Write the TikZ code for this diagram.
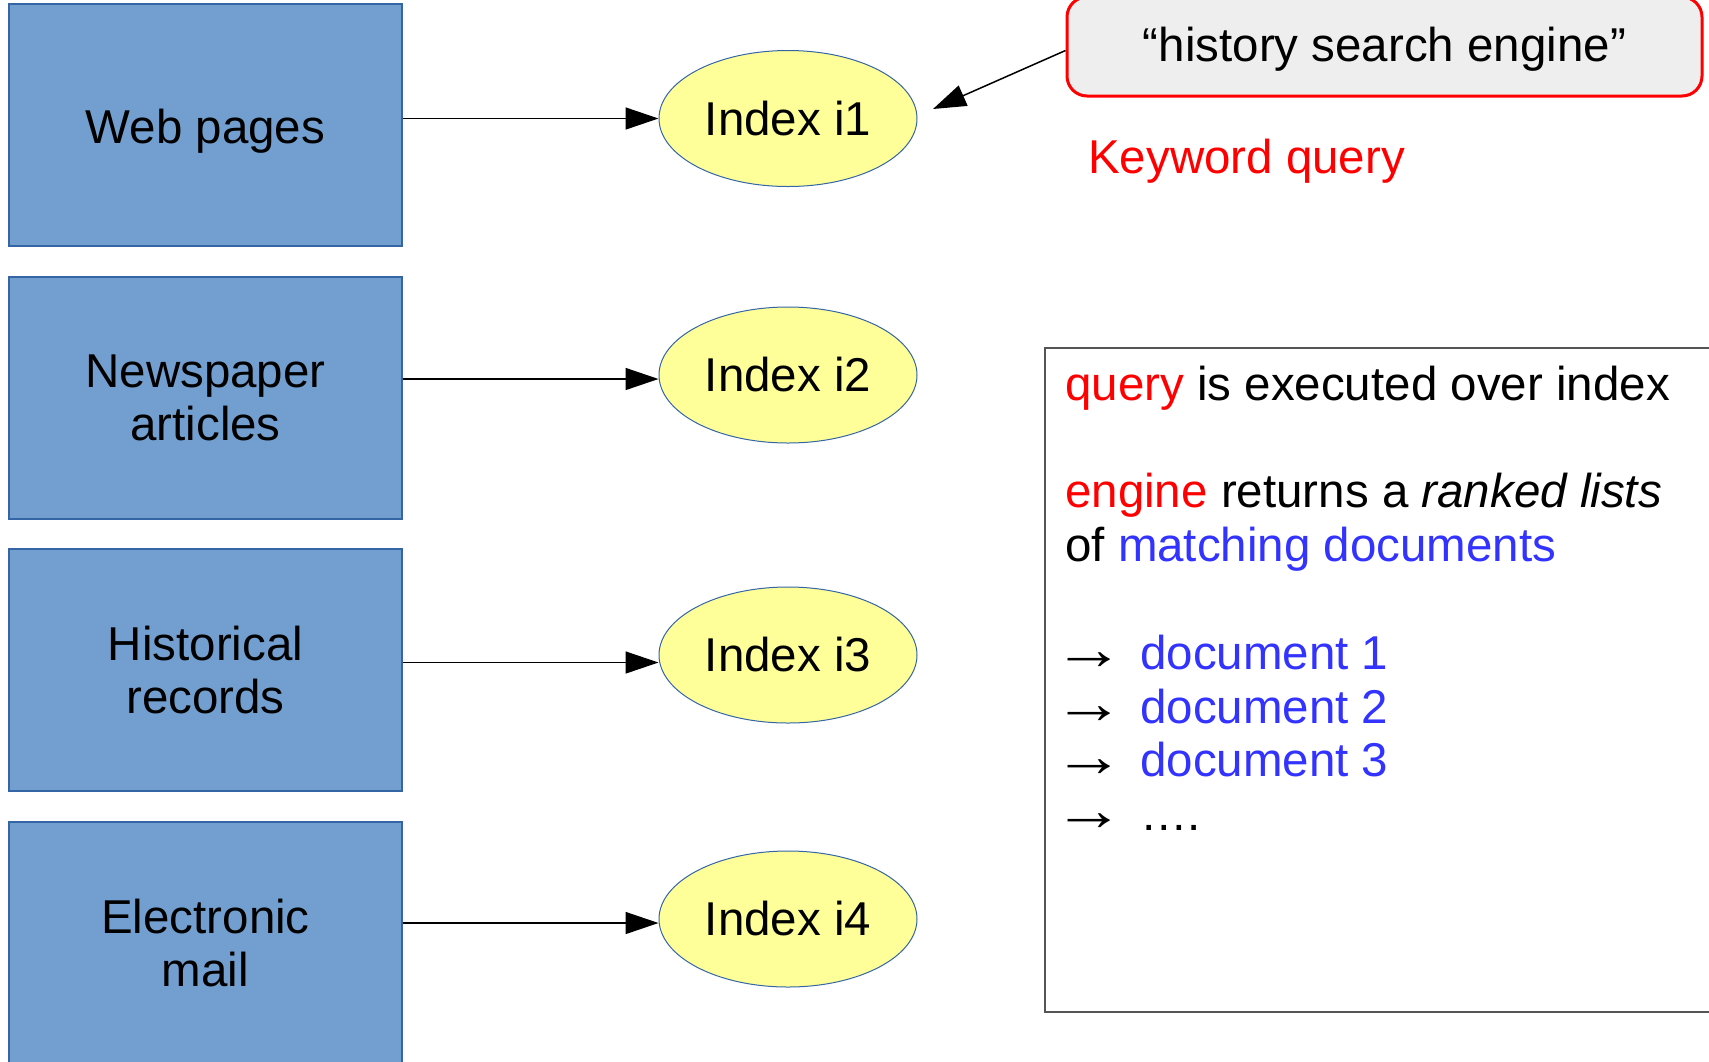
\documentclass[tikz,border=0pt]{standalone}
\usepackage{fontspec}
\setmainfont{Liberation Sans}
\newfontfamily\arrowfont{Liberation Serif}
\usetikzlibrary{arrows.meta,shapes.geometric}

\definecolor{srcfill}{HTML}{729FCF}
\definecolor{srcline}{HTML}{3465A4}
\definecolor{idxfill}{HTML}{FFFF99}
\definecolor{qfill}{HTML}{EEEEEE}
\definecolor{qred}{HTML}{FF0000}
\definecolor{docblue}{HTML}{3333FF}
\definecolor{resline}{HTML}{555555}

\newcommand{\listarrow}{\makebox[75pt][l]{\hspace*{-12pt}\scalebox{1.5}[1.25]{\arrowfont →}}}

\begin{document}
\begin{tikzpicture}[x=1pt,y=-1pt,
  bigtext/.style={font=\fontsize{47.5}{53.5}\selectfont},
  source/.style={bigtext, draw=srcline, fill=srcfill, line width=1.5pt,
    minimum width=393pt, minimum height=242pt, align=center, inner sep=0pt},
  index/.style={bigtext, ellipse, draw=srcline, fill=idxfill, line width=1pt,
    minimum width=258pt, minimum height=136pt, inner sep=0pt},
  feed/.style={line width=1.5pt, -{Triangle[length=33pt,width=22pt]}},
  textline/.style={bigtext, anchor=base west, inner sep=0pt}
]
\useasboundingbox (0,0) rectangle (1709,1061);

% data sources
\node[source] (web)  at (205.5,125) {\raisebox{-18pt}[0pt][0pt]{Web pages}};
\node[source] (news) at (205.5,398) {Newspaper\\articles};
\node[source] (hist) at (205.5,670) {Historical\\records};
\node[source] (mail) at (205.5,943) {Electronic\\mail};

% indexes
\node[index] (i1) at (788,118.5) {Index i1};
\node[index] (i2) at (788,375)   {Index i2};
\node[index] (i3) at (788,655)   {Index i3};
\node[index] (i4) at (788,919)   {Index i4};

% points where the feeds meet the index ellipses
\coordinate (e1) at (i1.west);
\coordinate (e2) at ([yshift=-4pt]i2.west);
\coordinate (e3) at ([yshift=-7.5pt]i3.west);
\coordinate (e4) at ([yshift=-4pt]i4.west);

\draw[feed] (web.east  |- e1) -- (e1);
\draw[feed] (news.east |- e2) -- (e2);
\draw[feed] (hist.east |- e3) -- (e3);
\draw[feed] (mail.east |- e4) -- (e4);

% keyword query
\node[bigtext, draw=qred, fill=qfill, line width=3pt, rounded corners=20pt,
  minimum width=635pt, minimum height=99pt, inner sep=0pt]
  (hq) at (1384.5,46.5) {\raisebox{-14.5pt}[0pt][0pt]{“history search engine”}};
\coordinate (qtip) at (933,109);
\draw[feed] ([yshift=-4pt]hq.west) -- (qtip);
\node[textline, text=qred] (kw) at (1088,173.5) {Keyword query};

% results panel
\node[draw=resline, line width=1.5pt, anchor=north west, minimum width=676pt,
  minimum height=664pt, inner sep=0pt] (res) at (1044,347) {};
\node[textline] (l1) at (1065,400.5) {\textcolor{qred}{query} is executed over index};
\node[textline] (l2) at (1065,507.5) {\textcolor{qred}{engine} returns a \textit{ranked lists}};
\node[textline] (l3) at (1065,561)   {of \textcolor{docblue}{matching documents}};
\node[textline] (d1) at (1065,669.5) {\listarrow\textcolor{docblue}{document 1}};
\node[textline] (d2) at (1065,723)   {\listarrow\textcolor{docblue}{document 2}};
\node[textline] (d3) at (1065,776.5) {\listarrow\textcolor{docblue}{document 3}};
\node[textline] (d4) at (1065,830)   {\listarrow….};
\end{tikzpicture}
\end{document}
